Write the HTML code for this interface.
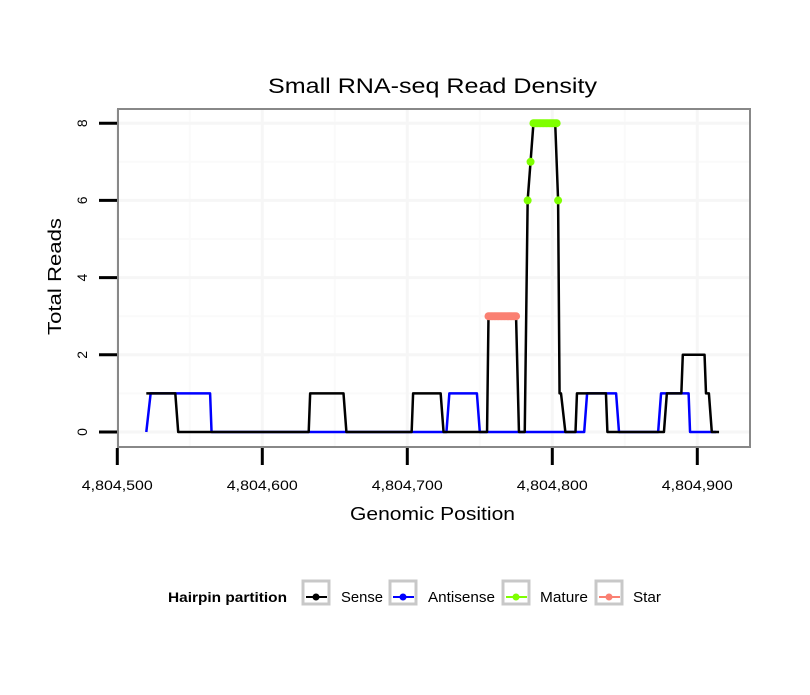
<!DOCTYPE html>
<html><head><meta charset="utf-8"><style>
body{margin:0;background:#fff;}
svg text{font-family:"Liberation Sans",Arial,sans-serif;}
</style></head><body>
<svg id="chart" width="810" height="690" xmlns="http://www.w3.org/2000/svg">
<rect width="810" height="690" fill="#fff"/>
<text x="268" y="93" font-size="21" textLength="329" lengthAdjust="spacingAndGlyphs">Small RNA-seq Read Density</text>
<rect x="118" y="109" width="632" height="338" fill="#fff"/>
<g id="grid"></g>
<g id="series"></g>
<rect x="118" y="109" width="632" height="338" fill="none" stroke="#888" stroke-width="2"/>
<g id="axes"></g>
<text x="350" y="520" font-size="18" textLength="165" lengthAdjust="spacingAndGlyphs">Genomic Position</text>
<text transform="translate(61,335) rotate(-90)" font-size="18" textLength="117" lengthAdjust="spacingAndGlyphs">Total Reads</text>
<g>
<text x="168" y="602" font-size="14" font-weight="bold" textLength="119" lengthAdjust="spacingAndGlyphs">Hairpin partition</text>
<g><rect x="303" y="581" width="26" height="23" fill="#fff" stroke="#c8c8c8" stroke-width="3"/><line x1="306" y1="597" x2="327" y2="597" stroke="#000" stroke-width="2"/><circle cx="316" cy="597" r="3.5" fill="#000"/><text x="341" y="602" font-size="15" textLength="42" lengthAdjust="spacingAndGlyphs">Sense</text></g>
<g><rect x="390" y="581" width="26" height="23" fill="#fff" stroke="#c8c8c8" stroke-width="3"/><line x1="393" y1="597" x2="414" y2="597" stroke="#00f" stroke-width="2"/><circle cx="403" cy="597" r="3.5" fill="#00f"/><text x="428" y="602" font-size="15" textLength="67" lengthAdjust="spacingAndGlyphs">Antisense</text></g>
<g><rect x="503" y="581" width="26" height="23" fill="#fff" stroke="#c8c8c8" stroke-width="3"/><line x1="506" y1="597" x2="527" y2="597" stroke="#7fff00" stroke-width="2"/><circle cx="516" cy="597" r="3.5" fill="#7fff00"/><text x="540" y="602" font-size="15" textLength="48" lengthAdjust="spacingAndGlyphs">Mature</text></g>
<g><rect x="596" y="581" width="26" height="23" fill="#fff" stroke="#c8c8c8" stroke-width="3"/><line x1="599" y1="597" x2="620" y2="597" stroke="#fa8072" stroke-width="2"/><circle cx="609" cy="597" r="3.5" fill="#fa8072"/><text x="633" y="602" font-size="15" textLength="28" lengthAdjust="spacingAndGlyphs">Star</text></g>
</g>
</svg>
<script>
const xTicks=[4804500,4804600,4804700,4804800,4804900];
const yTicks=[0,2,4,6,8];
// Genomic offsets relative to 4,804,500
const senseOff=[20,40,42,132,133,156,158,203,204,223,225,255,256,275,277,281,283,285,287,302,304,305,306,309,316,317,337,338,377,379,389,390,405,406,408,410,415];
const senseVal=[1,1,0,0,1,1,0,0,1,1,0,0,3,3,0,0,6,7,8,8,6,1,1,0,0,1,1,0,0,1,1,2,2,1,1,0,0];
const antiOff=[20,23,64,65,227,229,248,250,322,324,344,346,373,375,394,395,413];
const antiVal=[0,1,1,0,0,1,1,0,0,1,1,0,0,1,1,0,0];
const matureOff=[283,285,287,288,289,290,291,292,293,294,295,296,297,298,299,300,301,302,303,304];
const matureVal=[6,7,8,8,8,8,8,8,8,8,8,8,8,8,8,8,8,8,8,6];
const starOff=[256,257,258,259,260,261,262,263,264,265,266,267,268,269,270,271,272,273,274,275];
const starVal=[3,3,3,3,3,3,3,3,3,3,3,3,3,3,3,3,3,3,3,3];
const xs=v=>117.3+(v-4804500)*1.45;
const ys=v=>432-v*38.6;
const NS='http://www.w3.org/2000/svg';
function mk(tag,attrs,parent){const e=document.createElementNS(NS,tag);for(const k in attrs)e.setAttribute(k,attrs[k]);parent.appendChild(e);return e;}
const grid=document.getElementById('grid'),ser=document.getElementById('series'),ax=document.getElementById('axes');
for(let i=0;i<xTicks.length-1;i++){const m=(xTicks[i]+xTicks[i+1])/2;const l=mk('line',{x1:xs(m),x2:xs(m),y1:109,y2:447,stroke:'#fafafa','stroke-width':2},grid);

}
for(let i=0;i<yTicks.length-1;i++){const m=(yTicks[i]+yTicks[i+1])/2;const l=mk('line',{x1:118,x2:750,y1:ys(m),y2:ys(m),stroke:'#fafafa','stroke-width':2},grid);

}
xTicks.forEach(t=>{const l=mk('line',{x1:xs(t),x2:xs(t),y1:109,y2:447,stroke:'#f6f6f6','stroke-width':3},grid);


const tk=mk('line',{x1:xs(t),x2:xs(t),y1:448,y2:465,stroke:'#000','stroke-width':3},ax);


const tx=mk('text',{x:xs(t)-35.5,y:490,'font-size':14,textLength:71,lengthAdjust:'spacingAndGlyphs'},ax);tx.textContent=t.toLocaleString('en-US');

});
yTicks.forEach(t=>{const l=mk('line',{x1:118,x2:750,y1:ys(t),y2:ys(t),stroke:'#f6f6f6','stroke-width':3},grid);


const tk=mk('line',{x1:99,x2:117,y1:ys(t),y2:ys(t),stroke:'#000','stroke-width':3},ax);


const tx=mk('text',{transform:`translate(87,${ys(t)}) rotate(-90)`,'font-size':14,'text-anchor':'middle'},ax);tx.textContent=t;

});
function line(off,val,color,name){const d=off.map((o,i)=>(i?'L':'M')+xs(4804500+o)+','+ys(val[i])).join(' ');
const p=mk('path',{d:d,fill:'none',stroke:color,'stroke-width':2.5,'stroke-linejoin':'round'},ser);

}
line(antiOff,antiVal,'#0000ff','antisense-line');
line(senseOff,senseVal,'#000000','sense-line');
function pts(off,val,color,name){off.forEach((o,i)=>{const c=mk('circle',{cx:xs(4804500+o),cy:ys(val[i]),r:4,fill:color},ser);

});}
pts(starOff,starVal,'#fa8072','star-point');
pts(matureOff,matureVal,'#7fff00','mature-point');
</script>
</body></html>
